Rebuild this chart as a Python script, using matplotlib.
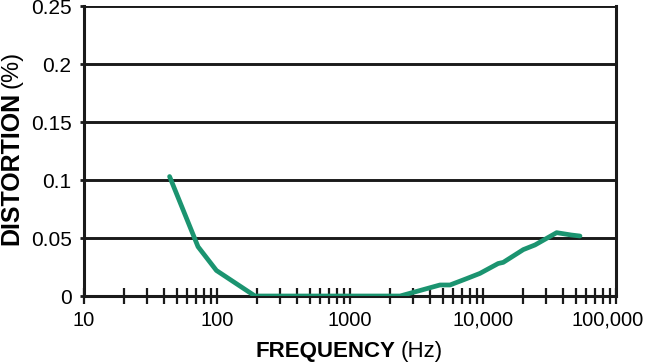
import numpy as np
import matplotlib
matplotlib.use('Agg')
import matplotlib.pyplot as plt
from matplotlib.ticker import FixedLocator, NullFormatter

plt.rcParams['font.family'] = ['Liberation Sans', 'DejaVu Sans']

# distortion vs frequency
freq = [44, 72, 99, 193, 500, 1000, 2380, 4750, 5650, 7540, 9490, 13000, 14200,
        20100, 24600, 35800, 46000, 53600]
dist = [0.103, 0.0425, 0.022, 0.0, 0.0, 0.0, 0.0, 0.0095, 0.0095, 0.015, 0.0195,
        0.028, 0.029, 0.040, 0.044, 0.0546, 0.0526, 0.0517]

yticks = [0, 0.05, 0.1, 0.15, 0.2, 0.25]
ytick_labels = ['0', '0.05', '0.1', '0.15', '0.2', '0.25']
xticks = [10, 100, 1000, 10000, 100000]
xtick_labels = ['10', '100', '1000', '10,000', '100,000']

green = '#1b9470'
ink = '#1a1a1a'

fig = plt.figure(figsize=(6.5, 3.63), dpi=100)
ax = fig.add_axes([84 / 650, 1 - 296 / 363, 532 / 650, 290 / 363])

ax.set_xscale('log')
ax.set_xlim(10, 100000)
ax.set_ylim(0, 0.25)

# horizontal grid lines
for v in yticks[1:]:
    ax.axhline(v, color=ink, lw=2.1, zorder=1)

ax.plot(freq, dist, color=green, lw=3.4, solid_capstyle='round', zorder=3)

for s in ['left', 'right', 'bottom']:
    ax.spines[s].set_color(ink)
    ax.spines[s].set_linewidth(2.2)
ax.spines['top'].set_visible(False)
ax.spines['right'].set_bounds(0, 0.25)

ax.set_yticks(yticks)
ax.set_yticklabels(ytick_labels)
ax.tick_params(axis='y', direction='out', length=3, width=2, color=ink,
               labelsize=15, pad=6)

ax.xaxis.set_major_locator(FixedLocator(xticks))
ax.set_xticklabels(xtick_labels[:-1] + [''])
minors = [m * d for d in [10, 100, 1000, 10000] for m in range(2, 10)]
ax.xaxis.set_minor_locator(FixedLocator(minors))
ax.xaxis.set_minor_formatter(NullFormatter())
ax.tick_params(axis='x', which='both', direction='inout', length=11, width=1.6,
               color=ink, labelsize=14.5, pad=4)
ax.tick_params(axis='x', which='major', pad=5)
# last label nudged left so it stays inside the figure
ax.annotate(xtick_labels[-1], xy=(xticks[-1], 0), xycoords=('data', 'axes fraction'),
            xytext=(-8, -14), textcoords='offset pixels', ha='center', va='top',
            fontsize=14.5, annotation_clip=False)

# axis titles, bold part + regular part
fig.text(395 / 650, 1 - 357 / 363, 'FREQUENCY', ha='right', va='baseline',
         fontsize=16, fontweight='bold')
fig.text(401 / 650, 1 - 357 / 363, '(Hz)', ha='left', va='baseline', fontsize=16)
fig.text(11 / 650, 1 - 92 / 363, 'DISTORTION', rotation=90, ha='center', va='top',
         fontsize=18, fontweight='bold')
fig.text(11 / 650, 1 - 88 / 363, '(%)', rotation=90, ha='center', va='bottom',
         fontsize=17)

fig.savefig('out.png', dpi=100)
